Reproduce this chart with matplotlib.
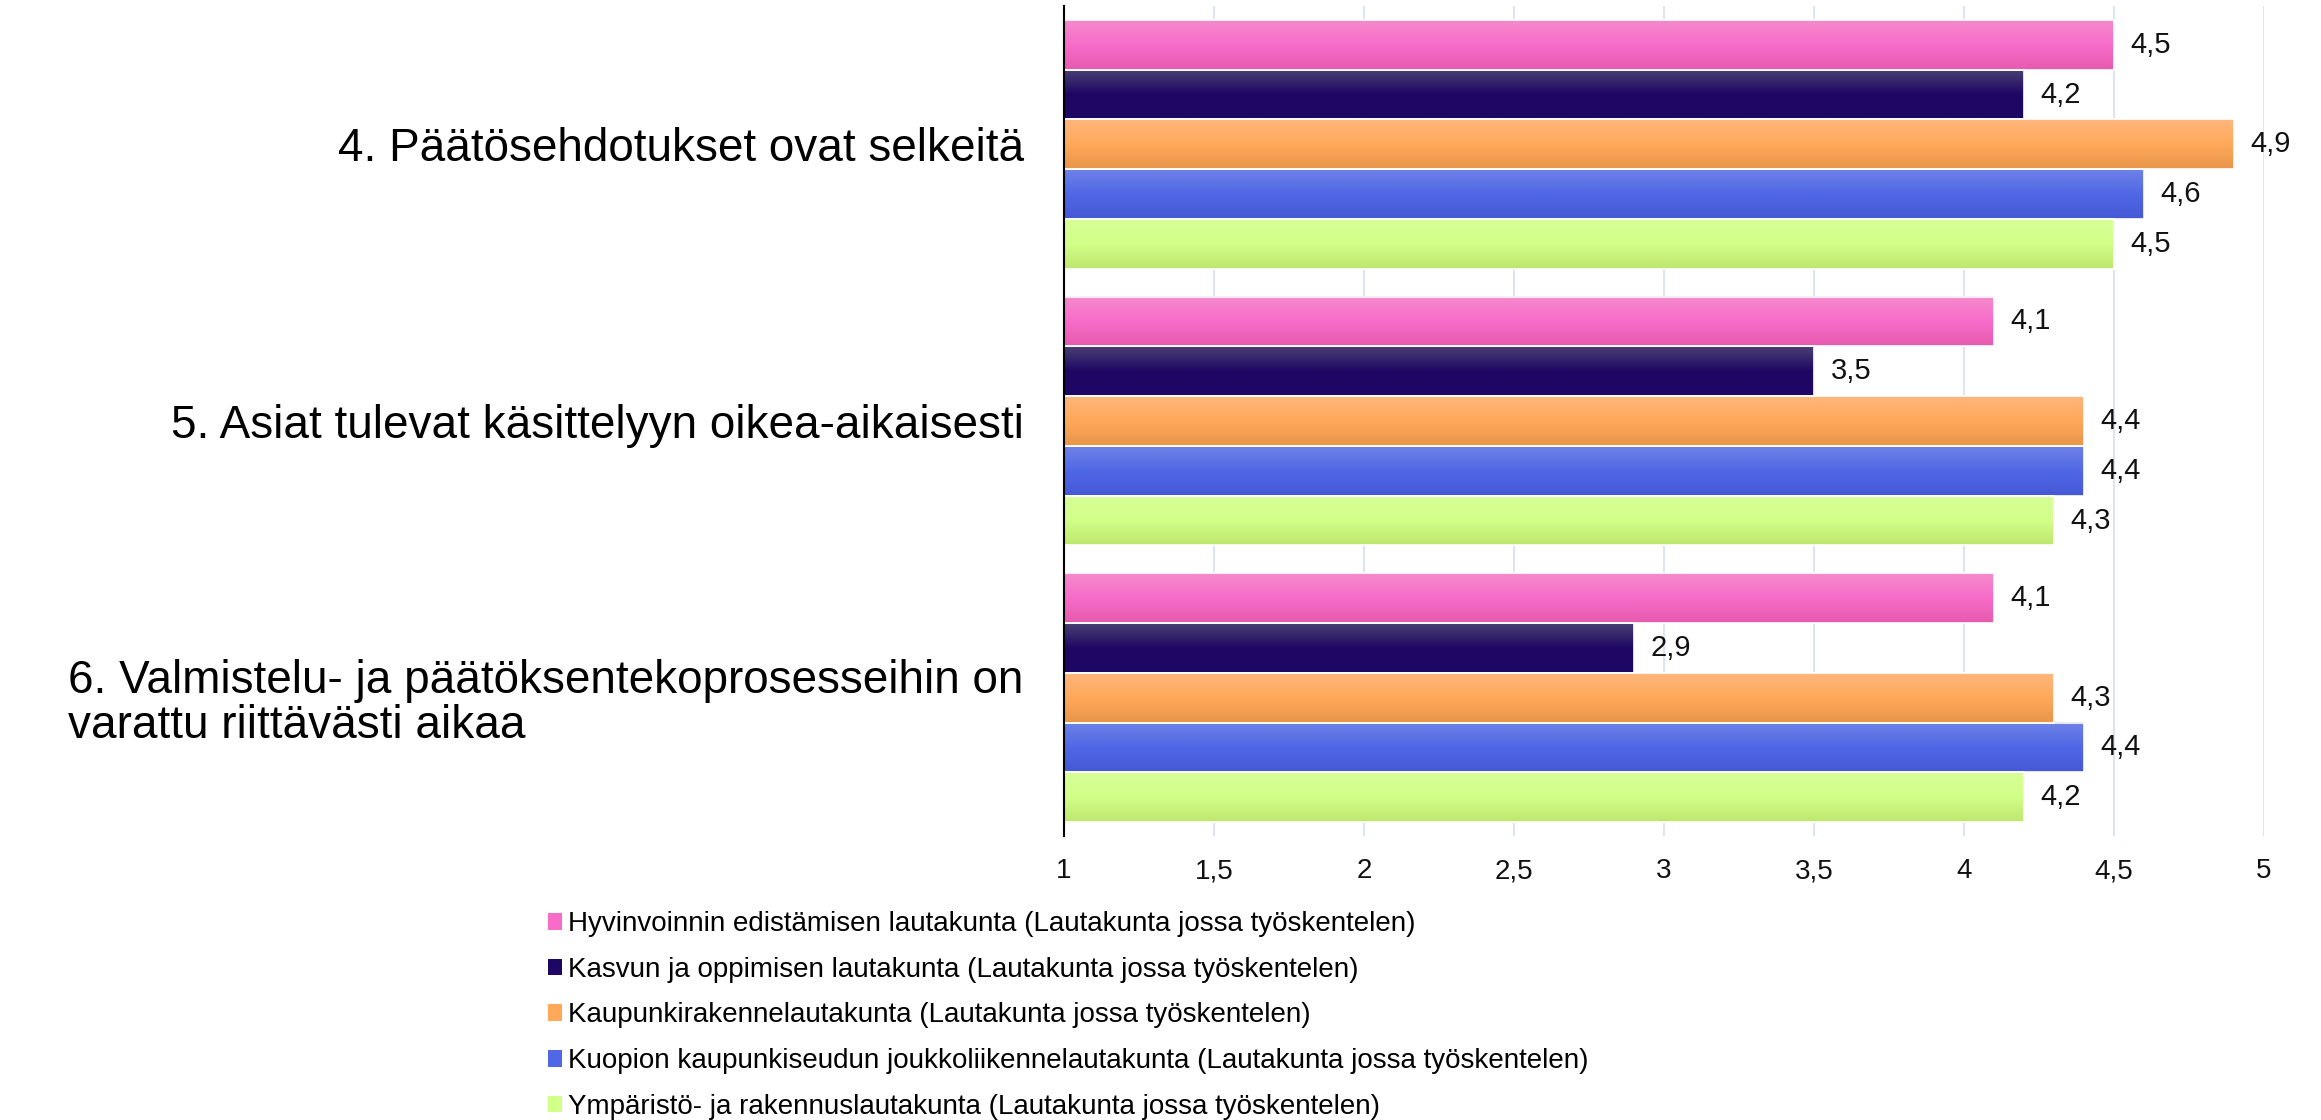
import numpy as np
import matplotlib
matplotlib.use("Agg")
import matplotlib.pyplot as plt
import matplotlib.patches as mpatches
from matplotlib.ticker import FuncFormatter

plt.rcParams["font.family"] = ["Liberation Sans", "DejaVu Sans"]

# questions (top to bottom)
questions = [
    "4. Päätösehdotukset ovat selkeitä",
    "5. Asiat tulevat käsittelyyn oikea-aikaisesti",
    "6. Valmistelu- ja päätöksentekoprosesseihin on\nvarattu riittävästi aikaa",
]

# boards (series)
boards = [
    "Hyvinvoinnin edistämisen lautakunta (Lautakunta jossa työskentelen)",
    "Kasvun ja oppimisen lautakunta (Lautakunta jossa työskentelen)",
    "Kaupunkirakennelautakunta (Lautakunta jossa työskentelen)",
    "Kuopion kaupunkiseudun joukkoliikennelautakunta (Lautakunta jossa työskentelen)",
    "Ympäristö- ja rakennuslautakunta (Lautakunta jossa työskentelen)",
]

hyvinvointi = [4.5, 4.1, 4.1]
kasvu = [4.2, 3.5, 2.9]
kaupunkirakenne = [4.9, 4.4, 4.3]
joukkoliikenne = [4.6, 4.4, 4.4]
ymparisto = [4.5, 4.3, 4.2]
series = [hyvinvointi, kasvu, kaupunkirakenne, joukkoliikenne, ymparisto]

x_ticks = [1, 1.5, 2, 2.5, 3, 3.5, 4, 4.5, 5]

# gradient colours per series: top, middle, bottom
grads = [
    ("#f48acc", "#f76cc8", "#e65aae"),
    ("#4a4072", "#1e0764", "#1e0764"),
    ("#ffb67c", "#ffa85a", "#e8954a"),
    ("#6e82e6", "#5068e6", "#4658d6"),
    ("#d8ff98", "#d2ff88", "#bee66e"),
]
base = [g[1] for g in grads]

W, H = 2321, 1120
fig = plt.figure(figsize=(W / 100, H / 100), dpi=100)
ax = fig.add_axes([1064 / W, 1 - 836 / H, 1200 / W, 830 / H])

y = np.arange(len(questions))
bh = 0.18
for j, vals in enumerate(series):
    pos = y + (j - 2) * bh
    bars = ax.barh(pos, np.array(vals) - 1, left=1, height=bh,
                   facecolor="none", edgecolor="white", linewidth=1.2, zorder=3)
    cmap = matplotlib.colors.LinearSegmentedColormap.from_list("g%d" % j, list(grads[j]))
    grad = np.linspace(0, 1, 64).reshape(-1, 1)
    for b in bars:
        x0, yb = b.get_x(), b.get_y()
        ax.imshow(grad, cmap=cmap, aspect="auto", interpolation="bilinear",
                  extent=[x0, x0 + b.get_width(), yb + bh, yb], origin="upper", zorder=2)
    ax.bar_label(bars, labels=[f"{v:.1f}".replace(".", ",") for v in vals],
                 padding=12, fontsize=21, color="#111111")

ax.set_xlim(1, 5)
ax.set_ylim(2.5, -0.5)
ax.set_xticks(x_ticks)
ax.xaxis.set_major_formatter(FuncFormatter(lambda v, p: f"{v:g}".replace(".", ",")))
ax.tick_params(axis="x", length=0, pad=16, labelsize=20, colors="#111111")
ax.set_yticks(y)
ax.set_yticklabels(questions, fontsize=33, multialignment="left", linespacing=1.05)
ax.tick_params(axis="y", length=0, pad=29)
ax.grid(axis="x", color="#dce6f2", linewidth=1.5, zorder=0)
ax.set_axisbelow(True)
for s in ["top", "right", "bottom"]:
    ax.spines[s].set_visible(False)
ax.spines["left"].set_color("black")
ax.spines["left"].set_linewidth(1.5)
ax.spines["left"].set_zorder(4)

handles = [mpatches.Patch(facecolor=c, edgecolor="none") for c in base]
fig.legend(handles, boards, loc="upper left", bbox_to_anchor=(548 / W, 1 - 911 / H),
           frameon=False, fontsize=20, handlelength=0.5, handleheight=0.55,
           handletextpad=0.22, labelspacing=0.71, borderpad=0, borderaxespad=0)

fig.savefig("out.png", dpi=100, facecolor="white")
